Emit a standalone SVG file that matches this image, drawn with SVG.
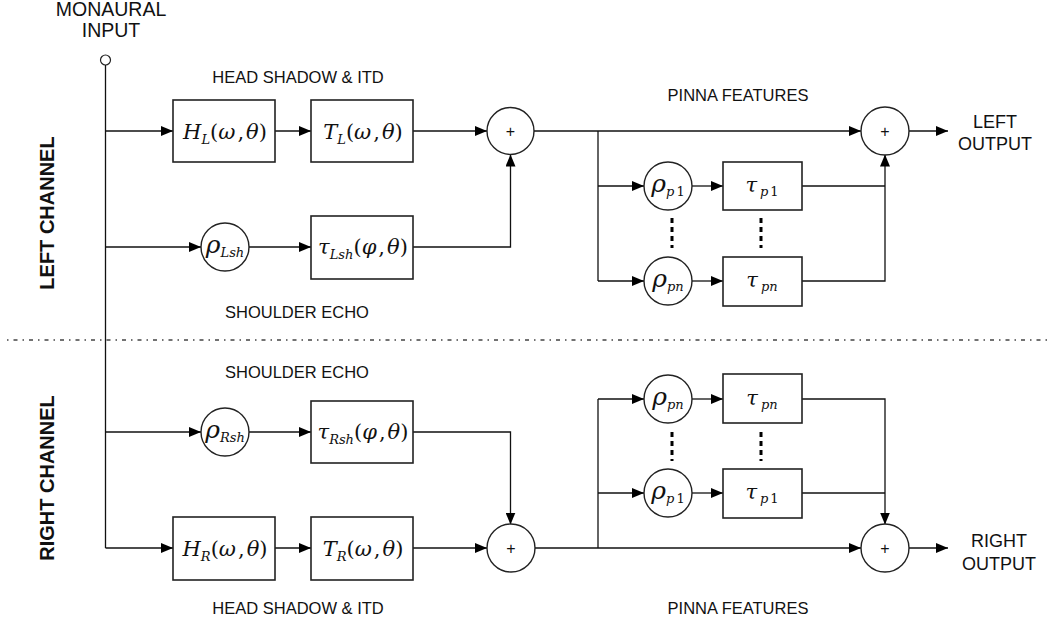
<svg xmlns="http://www.w3.org/2000/svg" width="1051" height="626" viewBox="0 0 1051 626">
<defs>
<marker id="ah" markerWidth="12" markerHeight="10" refX="12" refY="5" orient="auto" markerUnits="userSpaceOnUse">
<path d="M0,0 L12,5 L0,10 Z" fill="#000"/>
</marker>
<style>
.lbl{font-family:"Liberation Sans",Arial,sans-serif;font-size:16.5px;fill:#111;text-anchor:middle}
.ch{font-family:"Liberation Sans",Arial,sans-serif;font-size:16.5px;font-weight:bold;fill:#111;text-anchor:middle}
.box{fill:#fff;stroke:#222;stroke-width:1.6}
.circ{fill:#fff;stroke:#222;stroke-width:1.4}
.w{fill:none;stroke:#111;stroke-width:1.3}
.a{marker-end:url(#ah)}
.m{font-family:"DejaVu Serif","Liberation Serif",serif;font-size:21px;fill:#111;text-anchor:middle}
.r{font-size:25px}
.i{font-style:italic}
.s{font-style:italic;font-size:13px}
.plus{font-family:"Liberation Sans",Arial,sans-serif;font-size:16px;fill:#111;text-anchor:middle}
.dots{stroke:#000;stroke-width:3;stroke-dasharray:5,4;fill:none}
.sep{stroke:#444;stroke-width:1.3;stroke-dasharray:1.5,5,4,5;fill:none}
</style>
</defs>
<rect width="1051" height="626" fill="#fff"/>

<!-- texts -->
<g id="labels">
<text class="lbl" x="111" y="16" style="font-size:19.5px">MONAURAL</text>
<text class="lbl" x="111" y="37" style="font-size:19.5px">INPUT</text>
<text class="lbl" x="298" y="83">HEAD SHADOW &amp; ITD</text>
<text class="lbl" x="738" y="101">PINNA FEATURES</text>
<text class="lbl" x="297" y="318">SHOULDER ECHO</text>
<text class="lbl" x="297" y="378">SHOULDER ECHO</text>
<text class="lbl" x="298" y="614">HEAD SHADOW &amp; ITD</text>
<text class="lbl" x="738" y="614">PINNA FEATURES</text>
<text class="lbl" x="995" y="128" style="font-size:18px">LEFT</text>
<text class="lbl" x="995" y="150" style="font-size:18px">OUTPUT</text>
<text class="lbl" x="999" y="547" style="font-size:18px">RIGHT</text>
<text class="lbl" x="999" y="570" style="font-size:18px">OUTPUT</text>
<text class="ch" transform="translate(54,213) rotate(-90)" style="font-size:20px">LEFT CHANNEL</text>
<text class="ch" transform="translate(54,478) rotate(-90)" style="font-size:20px">RIGHT CHANNEL</text>
</g>

<!-- separator -->
<line class="sep" x1="7" y1="340" x2="1051" y2="340"/>

<!-- connectors -->
<g id="connectors">
<circle cx="105.5" cy="60" r="5" fill="#fff" stroke="#222" stroke-width="1.2"/>
<path class="w" d="M105.5,65 V548"/>
<!-- left main -->
<path class="w a" d="M105.5,131 H173"/>
<path class="w a" d="M275,131 H311"/>
<path class="w a" d="M413,131 H487"/>
<path class="w a" d="M534,131 H861"/>
<path class="w a" d="M909,131 H948"/>
<!-- left shoulder -->
<path class="w a" d="M105.5,247 H201"/>
<path class="w a" d="M249,247 H311"/>
<path class="w a" d="M413,247 H510.5 V154.5"/>
<!-- left pinna -->
<path class="w" d="M598,131 V281"/>
<path class="w a" d="M598,186 H644"/>
<path class="w a" d="M598,281 H644"/>
<path class="w a" d="M692,186 H723"/>
<path class="w a" d="M692,281 H723"/>
<path class="w" d="M802,186 H885"/>
<path class="w a" d="M802,281 H885 V154.5"/>
<path class="dots" d="M672,218 V248"/>
<path class="dots" d="M761,218 V248"/>
<!-- right shoulder -->
<path class="w a" d="M105.5,432 H201"/>
<path class="w a" d="M249,432 H311"/>
<path class="w a" d="M413,432 H510.5 V524.5"/>
<!-- right main -->
<path class="w a" d="M105.5,548 H173"/>
<path class="w a" d="M275,548 H311"/>
<path class="w a" d="M413,548 H487"/>
<path class="w a" d="M535,548 H861"/>
<path class="w a" d="M909,548 H948"/>
<!-- right pinna -->
<path class="w" d="M598,399 V548"/>
<path class="w a" d="M598,399 H644"/>
<path class="w a" d="M598,493 H644"/>
<path class="w a" d="M692,399 H723"/>
<path class="w a" d="M692,493 H723"/>
<path class="w" d="M802,493 H885"/>
<path class="w a" d="M802,399 H885 V524.5"/>
<path class="dots" d="M672,432 V461"/>
<path class="dots" d="M761,432 V461"/>
</g>

<!-- left channel nodes -->
<g id="HL"><rect class="box" x="173" y="100" width="102" height="62"/>
<text class="m" x="225" y="139"><tspan class="i">H</tspan><tspan class="s" dy="5">L</tspan><tspan dy="-5">(</tspan><tspan class="i">ω</tspan><tspan dx="2">,</tspan><tspan class="i" dx="2">θ</tspan>)</text></g>
<g id="TL"><rect class="box" x="311" y="100" width="102" height="62"/>
<text class="m" x="363" y="139"><tspan class="i">T</tspan><tspan class="s" dy="5">L</tspan><tspan dy="-5">(</tspan><tspan class="i">ω</tspan><tspan dx="2">,</tspan><tspan class="i" dx="2">θ</tspan>)</text></g>
<g id="sumL1"><circle class="circ" cx="510.5" cy="131" r="23.5"/><text class="plus" x="510.5" y="137">+</text></g>
<g id="rhoLsh"><circle class="circ" cx="225" cy="247" r="24"/>
<text class="m" x="225" y="253"><tspan class="i r">ρ</tspan><tspan class="s" dy="4">Lsh</tspan></text></g>
<g id="tauLsh"><rect class="box" x="311" y="216" width="102" height="63"/>
<text class="m" x="363" y="254"><tspan class="i">τ</tspan><tspan class="s" dy="5">Lsh</tspan><tspan dy="-5">(</tspan><tspan class="i">φ</tspan><tspan dx="2">,</tspan><tspan class="i" dx="2">θ</tspan>)</text></g>
<g id="rhoLp1"><circle class="circ" cx="668" cy="186" r="24"/>
<text class="m" x="668" y="192"><tspan class="i r">ρ</tspan><tspan class="s" dy="4">p</tspan><tspan class="s" dx="2" style="font-style:normal">1</tspan></text></g>
<g id="tauLp1"><rect class="box" x="723" y="162" width="79" height="48"/>
<text class="m" x="762" y="192"><tspan class="i">τ</tspan><tspan class="s" dy="4" dx="3">p</tspan><tspan class="s" dx="2" style="font-style:normal">1</tspan></text></g>
<g id="rhoLpn"><circle class="circ" cx="668" cy="281" r="24"/>
<text class="m" x="668" y="287"><tspan class="i r">ρ</tspan><tspan class="s" dy="4">pn</tspan></text></g>
<g id="tauLpn"><rect class="box" x="723" y="257" width="79" height="49"/>
<text class="m" x="762" y="287"><tspan class="i">τ</tspan><tspan class="s" dy="4" dx="3">pn</tspan></text></g>
<g id="sumLout"><circle class="circ" cx="885" cy="131" r="24"/><text class="plus" x="885" y="137">+</text></g>

<!-- right channel nodes -->
<g id="rhoRsh"><circle class="circ" cx="225" cy="432" r="24"/>
<text class="m" x="225" y="438"><tspan class="i r">ρ</tspan><tspan class="s" dy="4">Rsh</tspan></text></g>
<g id="tauRsh"><rect class="box" x="311" y="401" width="102" height="62"/>
<text class="m" x="363" y="439"><tspan class="i">τ</tspan><tspan class="s" dy="5">Rsh</tspan><tspan dy="-5">(</tspan><tspan class="i">φ</tspan><tspan dx="2">,</tspan><tspan class="i" dx="2">θ</tspan>)</text></g>
<g id="HR"><rect class="box" x="173" y="517" width="102" height="63"/>
<text class="m" x="225" y="556"><tspan class="i">H</tspan><tspan class="s" dy="5">R</tspan><tspan dy="-5">(</tspan><tspan class="i">ω</tspan><tspan dx="2">,</tspan><tspan class="i" dx="2">θ</tspan>)</text></g>
<g id="TR"><rect class="box" x="311" y="517" width="102" height="63"/>
<text class="m" x="363" y="556"><tspan class="i">T</tspan><tspan class="s" dy="5">R</tspan><tspan dy="-5">(</tspan><tspan class="i">ω</tspan><tspan dx="2">,</tspan><tspan class="i" dx="2">θ</tspan>)</text></g>
<g id="sumR1"><circle class="circ" cx="511" cy="548" r="24"/><text class="plus" x="511" y="554">+</text></g>
<g id="rhoRpn"><circle class="circ" cx="668" cy="399" r="24"/>
<text class="m" x="668" y="405"><tspan class="i r">ρ</tspan><tspan class="s" dy="4">pn</tspan></text></g>
<g id="tauRpn"><rect class="box" x="723" y="374" width="79" height="49"/>
<text class="m" x="762" y="405"><tspan class="i">τ</tspan><tspan class="s" dy="4" dx="3">pn</tspan></text></g>
<g id="rhoRp1"><circle class="circ" cx="668" cy="493" r="24"/>
<text class="m" x="668" y="499"><tspan class="i r">ρ</tspan><tspan class="s" dy="4">p</tspan><tspan class="s" dx="2" style="font-style:normal">1</tspan></text></g>
<g id="tauRp1"><rect class="box" x="723" y="469" width="79" height="49"/>
<text class="m" x="762" y="499"><tspan class="i">τ</tspan><tspan class="s" dy="4" dx="3">p</tspan><tspan class="s" dx="2" style="font-style:normal">1</tspan></text></g>
<g id="sumRout"><circle class="circ" cx="885" cy="548" r="24"/><text class="plus" x="885" y="554">+</text></g>
</svg>
